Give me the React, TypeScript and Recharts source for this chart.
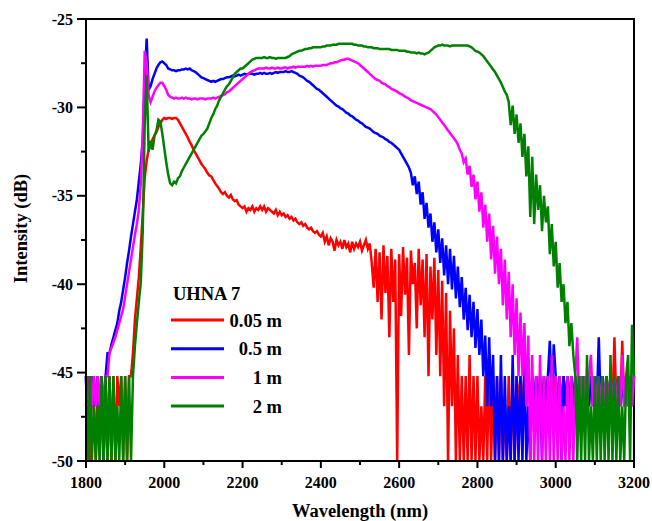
import React from 'react';
import { LineChart, Line, XAxis, YAxis, ReferenceArea } from 'recharts';

// sampling grid of the spectra (nm), 5 nm step
const wavelengths = Array.from({ length: 281 }, (_, i) => 1800 + i * 5);

const xTicks = [1800, 1900, 2000, 2100, 2200, 2300, 2400, 2500, 2600, 2700, 2800, 2900, 3000, 3100, 3200];
const yTicks = [-50, -47.5, -45, -42.5, -40, -37.5, -35, -32.5, -30, -27.5, -25];

const red005 = [
  -46.9, -45.2, -50, -45.2, -46.9, -50, -45.2, -50, -45.2, -50,
  -45.2, -50, -45.2, -50, -45.2, -50, -45.2, -46.9, -45.2, -50,
  -45.2, -50, -45.2, -45.2, -43.9, -42.0, -40.8, -39.6, -37.9, -36.0,
  -34.0, -33.0, -32.4, -32.1, -31.8, -31.6, -31.4, -31.1, -30.9, -30.7,
  -30.6, -30.65, -30.6, -30.6, -30.65, -30.6, -30.6, -30.7, -30.9, -31.1,
  -31.3, -31.5, -31.7, -31.95, -32.15, -32.4, -32.6, -32.8, -33.0, -33.2,
  -33.35, -33.5, -33.7, -33.85, -33.9, -34.1, -34.3, -34.45, -34.6, -34.8,
  -34.9, -34.8, -35.0, -35.1, -34.95, -35.2, -35.3, -35.25, -35.5, -35.6,
  -35.7, -35.6, -35.9, -35.7, -35.8, -35.6, -35.9, -35.7, -35.8, -35.6,
  -35.8, -35.6, -35.9, -35.7, -35.8, -35.9, -36.0, -35.8, -36.1, -35.9,
  -36.1, -36.0, -36.2, -36.1, -36.3, -36.2, -36.4, -36.3, -36.5, -36.6,
  -36.5, -36.7, -36.6, -36.8, -36.9, -36.8, -37.0, -37.1, -37.0, -37.2,
  -37.3, -37.1, -37.6, -37.3, -37.8, -37.4, -37.6, -38.1, -37.5, -37.8,
  -37.6, -38.0, -37.5, -37.9, -37.7, -38.2, -37.6, -38.0, -37.7, -37.9,
  -37.6, -38.1, -37.8, -37.5, -38.0, -37.7, -38.8, -40.2, -38.0, -41.0,
  -38.2, -42.0, -37.8, -40.5, -38.4, -43.0, -38.0, -41.0, -38.6, -50,
  -38.3, -41.8, -37.9, -40.6, -38.5, -44.0, -38.1, -40.0, -38.8, -42.5,
  -38.0, -41.2, -38.6, -43.0, -38.3, -45.2, -39.0, -42.0, -38.5, -44.0,
  -39.2, -45.2, -39.8, -46.9, -40.5, -50, -41.5, -46.9, -42.5, -50,
  -44.0, -50, -45.2, -50, -45.2, -50, -44.0, -50, -45.2, -50,
  -45.2, -50, -46.9, -50, -45.2, -50, -44.0, -50, -45.2, -50,
  -45.2, -50, -45.2, -50, -46.9, -50, -45.2, -50, -45.2, -50,
  -45.2, -46.9, -45.2, -46.9, -45.2, -46.9, -45.2, -46.9, -45.2, -46.9,
  -45.2, -46.9, -45.2, -46.9, -45.2, -46.9, -45.2, -46.9, -45.2, -46.9,
  -45.2, -46.9, -45.2, -46.9, -45.2, -46.9, -45.2, -46.9, -45.2, -46.9,
  -45.2, -46.9, -45.2, -46.9, -45.2, -46.9, -45.2, -46.9, -45.2, -46.9,
  -45.2, -46.9, -45.2, -46.9, -45.2, -46.9, -45.2, -46.9, -45.2, -46.9,
  -43.0, -46.9, -45.2, -46.9, -43.2, -46.9, -45.2, -46.9, -45.2, -46.9,
  -45.2,
];

const blue05 = [
  -45.2, -50, -45.2, -46.9, -45.2, -46.9, -45.2, -46.9, -45.2, -50,
  -45.2, -43.9, -43.9, -43.4, -43.0, -42.6, -42.2, -41.5, -41.0, -40.3,
  -39.6, -38.8, -38.1, -37.3, -36.6, -35.9, -35.2, -34.2, -33.2, -31.8,
  -28.5, -26.1, -29.0, -28.8, -28.4, -28.1, -27.8, -27.6, -27.45, -27.4,
  -27.5, -27.6, -27.8, -27.85, -27.9, -27.9, -27.95, -27.9, -27.9, -27.85,
  -27.85, -27.8, -27.85, -27.8, -27.9, -27.95, -28.0, -28.1, -28.2, -28.3,
  -28.35, -28.4, -28.45, -28.5, -28.55, -28.5, -28.55, -28.5, -28.45, -28.4,
  -28.4, -28.35, -28.3, -28.3, -28.25, -28.2, -28.25, -28.2, -28.15, -28.2,
  -28.15, -28.1, -28.15, -28.1, -28.1, -28.1, -28.15, -28.1, -28.1, -28.05,
  -28.1, -28.05, -28.1, -28.1, -28.05, -28.1, -28.05, -28.0, -28.05, -28.0,
  -28.0, -28.0, -27.95, -28.0, -28.0, -27.95, -28.0, -28.05, -28.1, -28.2,
  -28.25, -28.3, -28.4, -28.5, -28.55, -28.65, -28.75, -28.85, -28.95, -29.0,
  -29.1, -29.2, -29.3, -29.4, -29.5, -29.6, -29.7, -29.8, -29.9, -29.95,
  -30.05, -30.1, -30.2, -30.3, -30.35, -30.45, -30.5, -30.6, -30.7, -30.75,
  -30.85, -30.9, -31.0, -31.1, -31.15, -31.2, -31.3, -31.4, -31.45, -31.5,
  -31.6, -31.65, -31.7, -31.8, -31.85, -31.95, -32.0, -32.1, -32.2, -32.3,
  -32.4, -32.6, -32.8, -33.0, -33.2, -33.4, -33.7, -34.4, -33.9, -34.9,
  -34.2, -35.5, -34.8, -36.3, -35.4, -36.8, -36.0, -37.6, -36.5, -38.2,
  -36.9, -38.8, -37.4, -39.5, -37.8, -40.0, -38.0, -40.3, -38.4, -40.8,
  -39.0, -41.3, -39.6, -42.0, -40.2, -42.6, -40.6, -43.0, -41.0, -43.6,
  -41.4, -44.0, -42.0, -45.2, -42.9, -46.9, -43.0, -46.9, -44.0, -50,
  -45.2, -50, -44.0, -50, -45.2, -50, -46.9, -50, -44.0, -50,
  -45.2, -50, -45.2, -50, -44.0, -50, -46.9, -50, -45.2, -46.9,
  -45.2, -46.9, -45.2, -50, -45.2, -46.9, -45.2, -43.2, -46.9, -43.4,
  -45.2, -46.9, -45.2, -50, -45.2, -46.9, -45.2, -46.9, -45.2, -46.9,
  -45.2, -46.9, -45.2, -46.9, -45.2, -46.9, -45.2, -46.9, -45.2, -46.9,
  -45.2, -46.9, -43.0, -46.9, -45.2, -46.9, -45.2, -46.9, -45.2, -46.9,
  -45.2, -46.9, -45.2, -46.9, -45.2, -46.9, -45.2, -46.9, -45.2, -46.9,
  -45.2,
];

const magenta1 = [
  -45.2, -50, -45.2, -46.9, -45.2, -46.9, -45.2, -46.9, -45.2, -46.9,
  -45.2, -45.2, -43.9, -43.6, -43.3, -43.0, -42.6, -42.2, -41.8, -41.4,
  -40.7, -40.0, -39.3, -38.6, -37.9, -37.2, -36.6, -35.8, -34.3, -31.5,
  -26.8, -27.5, -29.3, -29.7, -29.4, -29.1, -28.9, -28.75, -28.6, -28.6,
  -28.8, -29.0, -29.3, -29.4, -29.45, -29.5, -29.45, -29.5, -29.5, -29.45,
  -29.5, -29.45, -29.5, -29.5, -29.55, -29.5, -29.5, -29.55, -29.5, -29.5,
  -29.5, -29.55, -29.5, -29.5, -29.5, -29.45, -29.5, -29.45, -29.4, -29.35,
  -29.3, -29.25, -29.15, -29.1, -29.0, -28.9, -28.8, -28.7, -28.6, -28.5,
  -28.4, -28.3, -28.2, -28.1, -28.0, -27.95, -27.9, -27.85, -27.8, -27.8,
  -27.8, -27.8, -27.75, -27.8, -27.8, -27.75, -27.8, -27.8, -27.75, -27.8,
  -27.8, -27.75, -27.75, -27.8, -27.75, -27.75, -27.7, -27.75, -27.7, -27.7,
  -27.7, -27.7, -27.7, -27.65, -27.7, -27.65, -27.7, -27.65, -27.65, -27.65,
  -27.65, -27.6, -27.6, -27.6, -27.55, -27.5, -27.5, -27.45, -27.45, -27.4,
  -27.35, -27.3, -27.3, -27.25, -27.25, -27.3, -27.35, -27.4, -27.45, -27.5,
  -27.6, -27.7, -27.8, -27.9, -28.0, -28.1, -28.2, -28.3, -28.4, -28.45,
  -28.5, -28.6, -28.65, -28.7, -28.8, -28.85, -28.95, -29.0, -29.05, -29.1,
  -29.2, -29.25, -29.3, -29.4, -29.45, -29.5, -29.6, -29.65, -29.7, -29.75,
  -29.8, -29.85, -29.9, -29.95, -30.0, -30.05, -30.1, -30.2, -30.3, -30.4,
  -30.55, -30.7, -30.85, -31.0, -31.15, -31.3, -31.45, -31.6, -31.75, -31.9,
  -32.1, -32.4, -32.6, -33.1, -32.9, -33.8, -33.3, -34.5, -33.8, -35.2,
  -34.2, -35.9, -34.8, -36.8, -35.5, -37.6, -36.0, -38.6, -36.7, -39.4,
  -37.3, -40.0, -38.0, -41.2, -38.6, -42.0, -39.3, -43.0, -40.0, -44.0,
  -40.8, -45.2, -41.6, -45.2, -42.2, -46.9, -42.9, -50, -44.0, -50,
  -45.2, -50, -44.0, -50, -45.2, -50, -45.2, -50, -44.0, -50,
  -45.2, -50, -45.2, -50, -46.9, -50, -45.2, -50, -45.2, -50,
  -45.2, -43.0, -46.9, -45.2, -46.9, -45.2, -46.9, -45.2, -44.0, -46.9,
  -45.2, -46.9, -45.2, -46.9, -45.2, -46.9, -45.2, -46.9, -45.2, -46.9,
  -45.2, -46.9, -45.2, -46.9, -44.0, -46.9, -45.2, -46.9, -45.2, -46.9,
  -45.2,
];

const green2 = [
  -45.2, -50, -45.2, -50, -46.9, -50, -46.9, -50, -45.2, -50,
  -45.2, -50, -45.2, -50, -45.2, -50, -46.9, -50, -45.2, -50,
  -45.2, -50, -45.2, -50, -45.2, -43.5, -42.2, -41.0, -39.9, -37.0,
  -31.0, -28.2, -32.5, -31.9, -32.4, -31.6, -31.3, -30.7, -30.8, -31.5,
  -32.3, -33.1, -33.8, -34.3, -34.4, -34.2, -34.3, -34.0, -33.9, -33.6,
  -33.4, -33.2, -33.0, -32.8, -32.6, -32.4, -32.2, -32.0, -31.8, -31.6,
  -31.5, -31.35, -31.2, -30.9, -30.6, -30.4, -30.1, -29.9, -29.6, -29.4,
  -29.2, -29.0, -28.8, -28.7, -28.5, -28.3, -28.1, -28.0, -27.9, -27.8,
  -27.8, -27.7, -27.6, -27.5, -27.4, -27.3, -27.25, -27.2, -27.2, -27.2,
  -27.2, -27.15, -27.2, -27.2, -27.15, -27.2, -27.2, -27.25, -27.2, -27.2,
  -27.2, -27.2, -27.2, -27.15, -27.1, -27.0, -26.95, -26.9, -26.85, -26.8,
  -26.8, -26.75, -26.7, -26.7, -26.65, -26.65, -26.6, -26.6, -26.6, -26.6,
  -26.6, -26.55, -26.55, -26.5, -26.5, -26.5, -26.45, -26.45, -26.45, -26.4,
  -26.4, -26.4, -26.4, -26.4, -26.4, -26.4, -26.4, -26.45, -26.45, -26.5,
  -26.5, -26.5, -26.55, -26.55, -26.6, -26.6, -26.6, -26.65, -26.65, -26.65,
  -26.7, -26.7, -26.7, -26.7, -26.7, -26.7, -26.75, -26.75, -26.75, -26.75,
  -26.8, -26.8, -26.8, -26.8, -26.85, -26.85, -26.9, -26.9, -26.9, -26.95,
  -26.9, -26.95, -26.95, -27.0, -26.95, -26.9, -26.8, -26.7, -26.6, -26.55,
  -26.5, -26.5, -26.45, -26.5, -26.5, -26.5, -26.55, -26.5, -26.5, -26.5,
  -26.5, -26.5, -26.5, -26.5, -26.5, -26.5, -26.55, -26.6, -26.7, -26.8,
  -26.85, -26.9, -27.0, -27.1, -27.25, -27.4, -27.55, -27.7, -27.85, -28.0,
  -28.2, -28.4, -28.6, -28.85, -29.1, -29.3, -29.7, -31.0, -29.9, -31.5,
  -30.4, -32.0, -30.9, -32.8, -31.5, -33.9, -32.2, -36.2, -32.8, -36.6,
  -33.8, -35.8, -34.4, -37.0, -35.0, -36.5, -35.6, -38.3, -36.6, -39.0,
  -37.6, -40.2, -38.8, -41.0, -40.0, -42.2, -41.0, -43.5, -42.2, -44.0,
  -45.2, -50, -45.2, -50, -45.2, -50, -44.0, -50, -46.9, -50,
  -45.2, -50, -45.2, -50, -45.2, -50, -45.2, -50, -44.0, -50,
  -45.2, -50, -45.2, -50, -46.9, -50, -45.2, -44.0, -50, -42.3,
  -45.2,
];

const seriesNames = ['0.05 m', '0.5 m', '1 m', '2 m'];
const seriesColors = ['#ff0000', '#0000ff', '#ff00ff', '#008000'];
const seriesKeys = ['r', 'b', 'm', 'g'];

const rows = wavelengths.map((wl, i) => ({
  wl,
  r: red005[i],
  b: blue05[i],
  m: magenta1[i],
  g: green2[i],
}));

const FONT = "'Liberation Serif', 'Times New Roman', serif";

const XTick = (props: any) => {
  const { x, y, payload } = props;
  const major = payload.value % 200 === 0;
  return (
    <g>
      <line x1={x} y1={y} x2={x} y2={y + (major ? 7 : 4)} stroke="#000" strokeWidth={2} />
      {major && (
        <text x={x} y={y + 27} textAnchor="middle" fontFamily={FONT} fontWeight="bold" fontSize={16} fill="#000">
          {payload.value}
        </text>
      )}
    </g>
  );
};

const YTick = (props: any) => {
  const { x, y, payload } = props;
  const major = payload.value % 5 === 0;
  return (
    <g>
      <line x1={x - (major ? 9 : 5)} y1={y} x2={x} y2={y} stroke="#000" strokeWidth={2} />
      {major && (
        <text x={x - 13} y={y + 5.5} textAnchor="end" fontFamily={FONT} fontWeight="bold" fontSize={16} fill="#000">
          {payload.value}
        </text>
      )}
    </g>
  );
};

export default function App() {
  return (
    <div style={{ position: 'absolute', left: 0, top: 0, width: 652, height: 521, background: '#fff' }}>
      <LineChart width={652} height={521} data={rows} margin={{ top: 19, right: 18, bottom: 0, left: 0 }}>
        <XAxis
          dataKey="wl"
          type="number"
          domain={[1800, 3200]}
          ticks={xTicks}
          interval={0}
          height={60}
          tickSize={0}
          tickMargin={0}
          tickLine={false}
          axisLine={{ stroke: '#000', strokeWidth: 2 }}
          tick={XTick}
        />
        <YAxis
          type="number"
          domain={[-50, -25]}
          ticks={yTicks}
          interval={0}
          width={86}
          tickSize={0}
          tickMargin={0}
          tickLine={false}
          axisLine={{ stroke: '#000', strokeWidth: 2 }}
          tick={YTick}
        />
        {seriesKeys.map((k, i) => (
          <Line
            key={k}
            dataKey={k}
            name={seriesNames[i]}
            type="linear"
            stroke={seriesColors[i]}
            strokeWidth={2.5}
            strokeLinejoin="miter"
            dot={false}
            isAnimationActive={false}
          />
        ))}
        <ReferenceArea x1={1800} x2={3200} y1={-50} y2={-25} fill="none" stroke="#000" strokeWidth={2} />
      </LineChart>
      <svg width={652} height={521} style={{ position: 'absolute', left: 0, top: 0, pointerEvents: 'none' }}>
        <text x={360} y={517} textAnchor="middle" fontFamily={FONT} fontWeight="bold" fontSize={18.5} fill="#000">
          Wavelength (nm)
        </text>
        <text
          x={27}
          y={228.5}
          transform="rotate(-90 27 228.5)"
          textAnchor="middle"
          fontFamily={FONT}
          fontWeight="bold"
          fontSize={18.5}
          fill="#000"
        >
          Intensity (dB)
        </text>
        <text x={173} y={300} fontFamily={FONT} fontWeight="bold" fontSize={18.5} fill="#000">
          UHNA 7
        </text>
        {seriesNames.map((n, i) => (
          <g key={n}>
            <line x1={171} x2={224} y1={320 + i * 28.7} y2={320 + i * 28.7} stroke={seriesColors[i]} strokeWidth={3} />
            <text x={282} y={320 + i * 28.7 + 6.5} textAnchor="end" fontFamily={FONT} fontWeight="bold" fontSize={18.5} fill="#000">
              {n}
            </text>
          </g>
        ))}
      </svg>
    </div>
  );
}
